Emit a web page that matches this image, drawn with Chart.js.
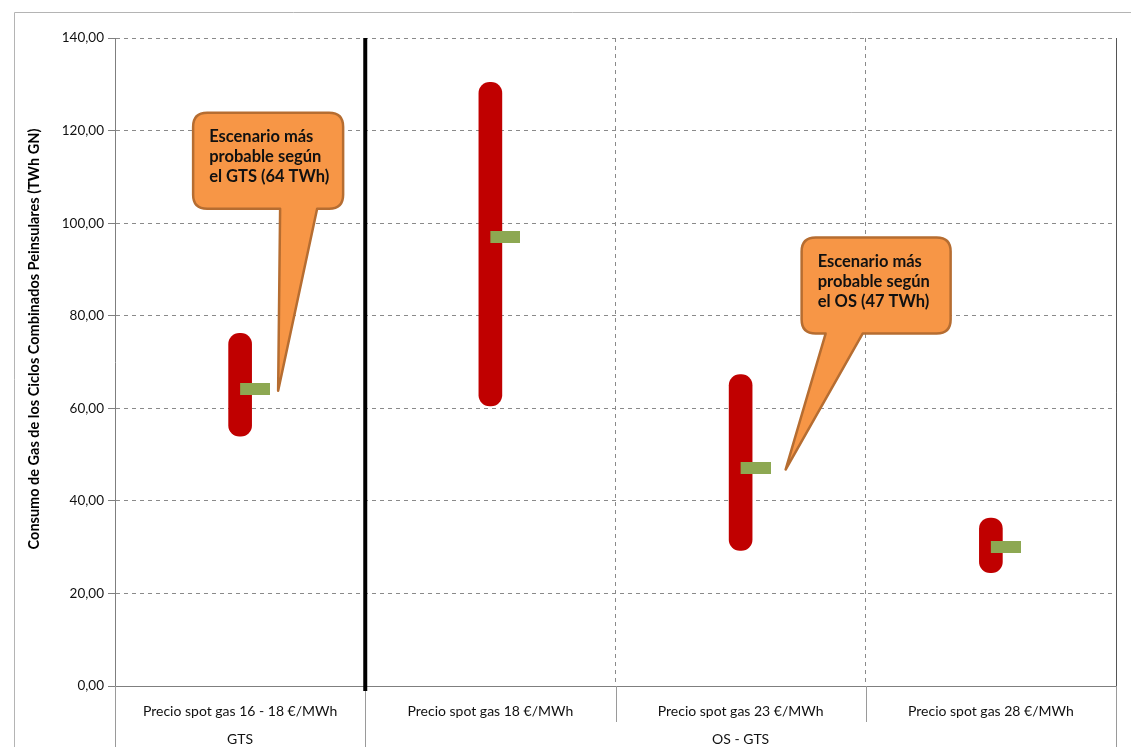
<!DOCTYPE html>
<html>
<head>
<meta charset="utf-8">
<script src="https://cdn.jsdelivr.net/npm/chart.js@4/dist/chart.umd.min.js"></script>
<style>
  body { margin: 0; background: #fff; }
  canvas { display: block; }
</style>
</head>
<body>
<canvas id="gasChart" width="1131" height="747"></canvas>
<script>
// Data
const categories = [
    'Precio spot gas 16 - 18 €/MWh',
    'Precio spot gas 18 €/MWh',
    'Precio spot gas 23 €/MWh',
    'Precio spot gas 28 €/MWh'
];
const groupLabels = ['GTS', 'OS - GTS'];
const groupSizes = [1, 3];
const rangeLow = [54, 60.5, 29.3, 24.5];
const rangeHigh = [76.2, 130.4, 67.3, 36.3];
const mostLikely = [64.2, 97, 47.2, 30];
const yMin = 0, yMax = 140, yStep = 20;
const calloutTexts = [
    ['Escenario más', 'probable según', 'el GTS (64 TWh)'],
    ['Escenario más', 'probable según', 'el OS (47 TWh)']
];
const calloutIndex = [0, 2];

// callout layout (offsets from the tip, in pixels)
const calloutLayout = [
    { tipDx: 38, boxDx: -85, boxDy: -278, w: 150, h: 96, baseL: 2, baseR: 39 },
    { tipDx: 45, boxDx: 16, boxDy: -232, w: 149, h: 96, baseL: 40, baseR: 77 }
];

// marker: green bar that starts at the category centre and goes right
const marker = document.createElement('canvas');
marker.width = 60;
marker.height = 12;
const mctx = marker.getContext('2d');
mctx.fillStyle = '#8DA852';
mctx.fillRect(30, 0, 30, 12);

function roundedCallout(ctx, b, tip, baseL, baseR) {
    const r = 14;
    const x0 = b.x, y0 = b.y, x1 = b.x + b.w, y1 = b.y + b.h;
    ctx.beginPath();
    ctx.moveTo(x0 + r, y0);
    ctx.lineTo(x1 - r, y0);
    ctx.quadraticCurveTo(x1, y0, x1, y0 + r);
    ctx.lineTo(x1, y1 - r);
    ctx.quadraticCurveTo(x1, y1, x1 - r, y1);
    ctx.lineTo(baseR, y1);
    ctx.lineTo(tip.x, tip.y);
    ctx.lineTo(baseL, y1);
    ctx.lineTo(x0 + r, y1);
    ctx.quadraticCurveTo(x0, y1, x0, y1 - r);
    ctx.lineTo(x0, y0 + r);
    ctx.quadraticCurveTo(x0, y0, x0 + r, y0);
    ctx.closePath();
}

const extrasPlugin = {
    id: 'extras',
    beforeDraw(chart) {
        const ctx = chart.ctx;
        ctx.save();
        ctx.strokeStyle = '#b4b4b4';
        ctx.lineWidth = 1;
        ctx.beginPath();
        ctx.moveTo(14.5, 747);
        ctx.lineTo(14.5, 12.5);
        ctx.lineTo(1131, 12.5);
        ctx.stroke();
        ctx.restore();
    },
    afterDraw(chart) {
        const ctx = chart.ctx;
        const area = chart.chartArea;
        const xs = chart.scales.x;
        const ys = chart.scales.y;
        const bottom = chart.height;
        const centers = categories.map((c, i) => xs.getPixelForValue(i));
        const step = centers[1] - centers[0];
        const bounds = [area.left];
        centers.forEach(c => bounds.push(c + step / 2));
        bounds[bounds.length - 1] = area.right;

        ctx.save();
        // right border of plot
        ctx.strokeStyle = '#555';
        ctx.lineWidth = 1;
        ctx.beginPath();
        ctx.moveTo(Math.round(area.right) + 0.5, area.top);
        ctx.lineTo(Math.round(area.right) + 0.5, bottom);
        ctx.stroke();

        // separators in the label area
        ctx.strokeStyle = '#9a9a9a';
        let acc = 0;
        const groupEdges = [0];
        groupSizes.forEach(s => { acc += s; groupEdges.push(acc); });
        bounds.forEach((bx, i) => {
            const full = groupEdges.includes(i);
            ctx.beginPath();
            ctx.moveTo(Math.round(bx) + 0.5, area.bottom);
            ctx.lineTo(Math.round(bx) + 0.5, full ? bottom : area.bottom + 36);
            ctx.stroke();
        });

        // thick black line between GTS and OS - GTS
        const sepX = bounds[groupEdges[1]];
        ctx.strokeStyle = '#000';
        ctx.lineWidth = 4;
        ctx.beginPath();
        ctx.moveTo(sepX, area.top);
        ctx.lineTo(sepX, area.bottom + 5);
        ctx.stroke();

        // category labels
        ctx.fillStyle = '#111';
        ctx.font = '14px Lato';
        ctx.textAlign = 'center';
        ctx.textBaseline = 'middle';
        categories.forEach((c, i) => ctx.fillText(c, centers[i], area.bottom + 25));
        // group labels
        groupLabels.forEach((g, i) => {
            const mid = (bounds[groupEdges[i]] + bounds[groupEdges[i + 1]]) / 2;
            ctx.fillText(g, mid, area.bottom + 53);
        });

        // y axis title
        ctx.save();
        ctx.translate(34, 339);
        ctx.rotate(-Math.PI / 2);
        ctx.font = 'bold 14.5px Lato';
        ctx.fillStyle = '#000';
        ctx.fillText('Consumo de Gas de los Ciclos Combinados Peinsulares (TWh GN)', 0, 0);
        ctx.restore();

        // callouts
        calloutIndex.forEach((idx, k) => {
            const lay = calloutLayout[k];
            const tip = { x: centers[idx] + lay.tipDx, y: ys.getPixelForValue(mostLikely[idx]) + 2 };
            const box = { x: tip.x + lay.boxDx, y: tip.y + lay.boxDy, w: lay.w, h: lay.h };
            roundedCallout(ctx, box, tip, tip.x + lay.baseL, tip.x + lay.baseR);
            ctx.fillStyle = '#F79646';
            ctx.fill();
            ctx.strokeStyle = '#B66D31';
            ctx.lineWidth = 2.5;
            ctx.lineJoin = 'round';
            ctx.stroke();
            ctx.fillStyle = '#111';
            ctx.font = 'bold 16.5px Lato';
            ctx.textAlign = 'left';
            ctx.textBaseline = 'alphabetic';
            calloutTexts[k].forEach((line, j) => {
                ctx.fillText(line, box.x + 16, box.y + 29 + j * 20);
            });
        });
        ctx.restore();
    }
};

const ctx = document.getElementById('gasChart').getContext('2d');
const gasChart = new Chart(ctx, {
    type: 'bar',
    data: {
        labels: categories,
        datasets: [
            {
                type: 'line',
                label: 'Escenario más probable',
                data: mostLikely,
                showLine: false,
                pointStyle: marker,
                pointRadius: 10,
                pointHoverRadius: 10,
                order: 0
            },
            {
                label: 'Rango',
                data: rangeLow.map((lo, i) => [lo, rangeHigh[i]]),
                backgroundColor: '#C00000',
                borderWidth: 0,
                borderRadius: 11,
                borderSkipped: false,
                barThickness: 23,
                order: 1
            }
        ]
    },
    options: {
        responsive: false,
        animation: false,
        layout: {
            padding: { left: 0, top: 38, right: 15, bottom: 61 }
        },
        scales: {
            x: {
                offset: true,
                grid: {
                    offset: true,
                    color: '#8a8a8a',
                    drawTicks: false
                },
                border: { color: '#7f7f7f', dash: [4, 4] },
                ticks: { display: false },
                afterFit: function(scale) { scale.height = 0; }
            },
            y: {
                min: yMin,
                max: yMax,
                grid: {
                    color: '#8a8a8a',
                    tickLength: 7,
                    tickColor: '#7f7f7f'
                },
                border: { color: '#7f7f7f', dash: [4, 4] },
                ticks: {
                    stepSize: yStep,
                    color: '#111',
                    font: { family: 'Lato', size: 13.5 },
                    padding: 4,
                    callback: v => v.toFixed(2).replace('.', ',')
                },
                afterFit: function(scale) { scale.width = 115; }
            }
        },
        plugins: {
            legend: { display: false },
            tooltip: { enabled: false }
        }
    },
    plugins: [extrasPlugin]
});
</script>
</body>
</html>
